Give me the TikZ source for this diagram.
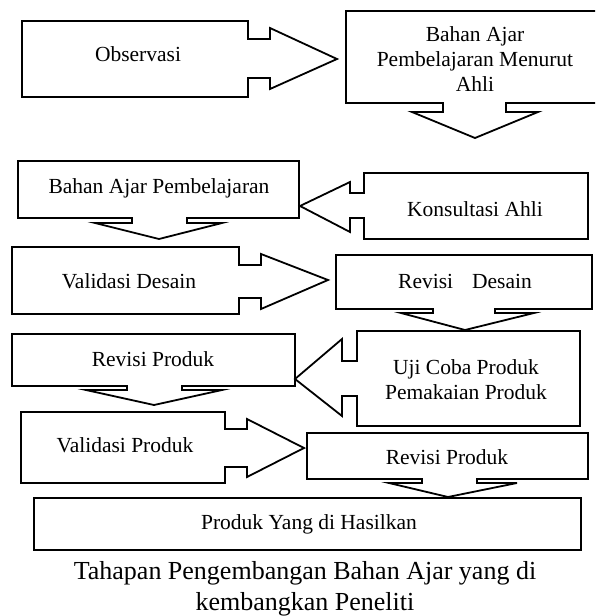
\documentclass[tikz,border=0pt]{standalone}
\usepackage{fontspec}
\setmainfont{Liberation Serif}
\begin{document}
\begin{tikzpicture}[x=1pt,y=-1pt,
  outline/.style={draw=black, line width=1.8pt, line join=miter},
  lbl/.style={font=\fontsize{21.5}{25}\selectfont, align=center, inner sep=0pt},
  captiontext/.style={font=\fontsize{26}{31}\selectfont, align=center, inner sep=0pt}]
\useasboundingbox (0,0) rectangle (595,616);
\clip (0,0) rectangle (595,616);

% Observasi with right arrow
\draw[outline] (22,21) -- (248,21) -- (248,39) -- (270,39) -- (270,28) -- (337,59)
  -- (270,89) -- (270,78) -- (248,78) -- (248,97) -- (22,97) -- cycle;
\node[lbl] (obs) at (138,54) {Observasi};

% Bahan Ajar Pembelajaran Menurut Ahli with down arrow
\draw[outline] (346,11) -- (598,11) -- (598,103) -- (506,103) -- (506,112) -- (538,112)
  -- (475,138) -- (412,112) -- (443,112) -- (443,103) -- (346,103) -- cycle;
\node[lbl] (ahli) at (475,59) {Bahan Ajar\\Pembelajaran Menurut\\Ahli};

% Konsultasi Ahli with left arrow
\draw[outline] (364,173) -- (588,173) -- (588,239) -- (364,239) -- (364,218) -- (350,218)
  -- (350,232) -- (300,206) -- (350,182) -- (350,193) -- (364,193) -- cycle;
\node[lbl] (kons) at (475,209) {Konsultasi Ahli};

% Bahan Ajar Pembelajaran with down arrow
\draw[outline] (18,161) -- (299,161) -- (299,218) -- (187,218) -- (187,223) -- (222,223)
  -- (159,239) -- (95,223) -- (132,223) -- (132,218) -- (18,218) -- cycle;
\node[lbl] (bap) at (159,188) {Bahan Ajar Pembelajaran};

% Validasi Desain with right arrow
\draw[outline] (12,247) -- (239,247) -- (239,265) -- (261,265) -- (261,254) -- (328,280)
  -- (261,309) -- (261,298) -- (239,298) -- (239,314) -- (12,314) -- cycle;
\node[lbl] (vd) at (129,281) {Validasi Desain};

% Revisi Desain with down arrow
\draw[outline] (336,255) -- (592,255) -- (592,309) -- (495,309) -- (495,313) -- (534,313)
  -- (465,330) -- (401,313) -- (433,313) -- (433,309) -- (336,309) -- cycle;
\node[lbl] (rd) at (465,281) {Revisi\hspace{19pt}Desain};

% Uji Coba with left arrow
\draw[outline] (357,331) -- (580,331) -- (580,426) -- (357,426) -- (357,396) -- (342,396)
  -- (342,416) -- (295,379) -- (342,339) -- (342,361) -- (357,361) -- cycle;
\node[lbl] (uji) at (466,380) {Uji Coba Produk\\Pemakaian Produk};

% Revisi Produk (left) with down arrow
\draw[outline] (12,334) -- (295,334) -- (295,386) -- (182,386) -- (182,390) -- (222,390)
  -- (154,405) -- (86,390) -- (127,390) -- (127,386) -- (12,386) -- cycle;
\node[lbl] (rp1) at (153,359) {Revisi Produk};

% Validasi Produk with right arrow
\draw[outline] (21,412) -- (225,412) -- (225,429) -- (247,429) -- (247,419) -- (304,448)
  -- (247,477) -- (247,467) -- (225,467) -- (225,483) -- (21,483) -- cycle;
\node[lbl] (vp) at (125,445) {Validasi Produk};

% Revisi Produk (right) with down arrow
\draw[outline] (307,433) -- (588,433) -- (588,479) -- (477,479) -- (477,483) -- (517,483)
  -- (448,497) -- (389,483) -- (422,483) -- (422,479) -- (307,479) -- cycle;
\node[lbl] (rp2) at (447,457) {Revisi Produk};

% Produk Yang di Hasilkan
\draw[outline] (34,498) rectangle (581,550);
\node[lbl] (hasil) at (309,524) {Produk Yang di Hasilkan};

% Caption
\node[captiontext] (caption) at (305,589) {Tahapan Pengembangan Bahan Ajar yang di\\kembangkan Peneliti};
\end{tikzpicture}
\end{document}
